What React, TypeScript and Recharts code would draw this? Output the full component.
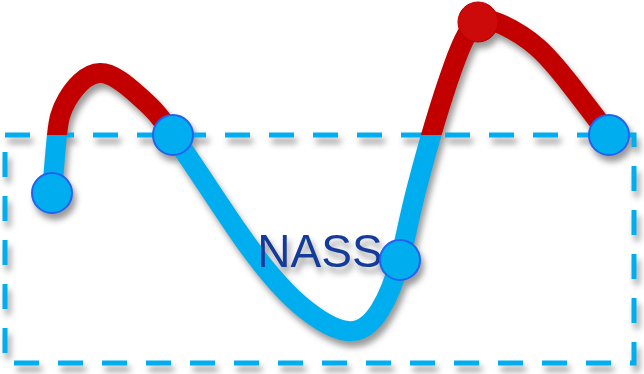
import { LineChart, Line, XAxis, YAxis, ReferenceArea, ReferenceDot } from 'recharts'

// points along the curve (y grows upward, 0..374)
const xs = [52, 57, 67, 100, 140, 173, 237, 270, 300, 347, 380, 400, 417, 453, 478, 503, 537, 570, 609]
const ys = [181, 239, 274, 301, 277, 239, 144, 100, 69, 43, 64, 114, 187, 307, 352, 349, 327, 290, 239]
// which of them carry a round marker
const marked = [
  true, false, false, false, false, true, false, false, false, false,
  false, true, false, false, true, false, false, false, true,
]

const threshold = 239
const yDomain = [0, 374]
const boxX = [5, 634]
const boxY = [11, 239]
const title = 'NASS'
const titleAt = { x: 320, y: 107 }

const data = xs.map((x, i) => ({ x, y: ys[i], marked: marked[i] }))

const W = 644
const H = 374
const blue = '#00aeef'
const red = '#c30000'

// where the colour switches, measured down from the top of the plot
const split = (yDomain[1] - threshold) / (yDomain[1] - yDomain[0])

function Marker(props: any) {
  const { cx, cy, payload, index } = props
  if (!payload.marked) return <g key={index} />
  const above = payload.y > threshold
  return (
    <circle
      key={index}
      cx={cx}
      cy={cy}
      r={20}
      fill={above ? '#cc0a0a' : blue}
      stroke={above ? '#b80000' : '#2262f0'}
      strokeWidth={above ? 1 : 2}
    />
  )
}

export default function App() {
  return (
    <div
      style={{
        position: 'absolute',
        left: 0,
        top: 0,
        width: W,
        height: H,
        filter: 'drop-shadow(3px 6px 3px rgba(0,0,0,0.4))',
      }}
    >
      <LineChart width={W} height={H} data={data} margin={{ top: 0, right: 0, left: 0, bottom: 0 }}>
        <defs>
          <linearGradient id="split" gradientUnits="userSpaceOnUse" x1="0" y1="0" x2="0" y2={H}>
            <stop offset={split} stopColor={red} />
            <stop offset={split} stopColor={blue} />
          </linearGradient>
        </defs>
        <XAxis dataKey="x" type="number" domain={[0, W]} hide />
        <YAxis type="number" domain={yDomain} hide />
        <ReferenceArea
          x1={boxX[0]}
          x2={boxX[1]}
          y1={boxY[0]}
          y2={boxY[1]}
          fill="none"
          fillOpacity={0}
          stroke={blue}
          strokeWidth={5}
          strokeDasharray="25 19"
        />
        <ReferenceDot
          x={titleAt.x}
          y={titleAt.y}
          r={0}
          shape={(p: any) => (
            <text
              x={p.cx}
              y={p.cy}
              textAnchor="middle"
              fontFamily="'Liberation Sans', Arial, sans-serif"
              fontSize={46}
              fill="#143a9a"
            >
              {title}
            </text>
          )}
        />
        <Line
          type="natural"
          dataKey="y"
          stroke="url(#split)"
          strokeWidth={20}
          dot={Marker}
          activeDot={false}
          isAnimationActive={false}
        />
      </LineChart>
    </div>
  )
}
